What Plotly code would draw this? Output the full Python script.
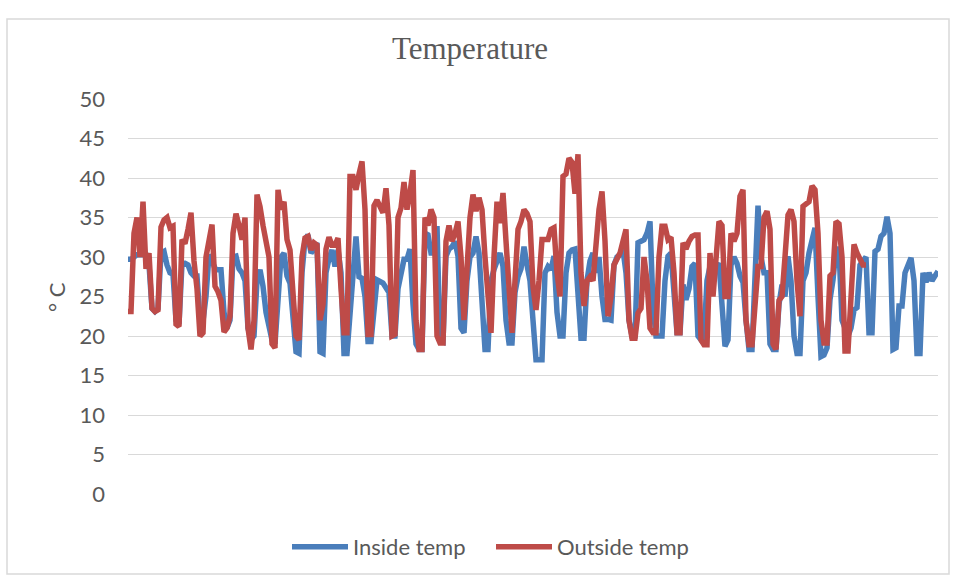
import plotly.graph_objects as go

# Samples (equally spaced readings); values in deg C
inside_temp = [
    29.7, 29.7, 30.0, 30.3, 30.3, 30.3, 30.3, 29.0, 23.5, 23.1,
    23.5, 30.5, 30.7, 29.0, 28.0, 27.8, 22.0, 21.5, 29.2, 29.2,
    29.0, 28.0, 27.6, 27.6, 22.0, 21.9, 25.0, 30.3, 29.3, 28.6,
    28.4, 28.4, 23.0, 21.0, 22.0, 30.0, 30.1, 28.5, 28.0, 27.0,
    21.0, 19.5, 20.0, 27.0, 28.4, 26.3, 23.0, 21.0, 19.5, 19.0,
    25.0, 30.0, 30.5, 27.6, 26.7, 22.0, 18.0, 17.8, 28.0, 32.2,
    32.8, 30.5, 31.0, 31.8, 18.0, 17.8, 28.0, 29.8, 30.9, 28.8,
    30.9, 28.0, 17.8, 17.8, 23.0, 28.0, 32.6, 27.5, 27.3, 25.0,
    19.3, 19.3, 24.0, 27.1, 26.9, 26.7, 26.1, 25.5, 20.0, 20.0,
    26.0, 28.0, 29.7, 29.7, 31.0, 24.0, 19.0, 18.3, 18.3, 33.0,
    32.8, 30.5, 30.5, 33.9, 19.5, 19.3, 30.1, 31.0, 31.3, 32.0,
    30.1, 21.0, 20.4, 27.0, 30.0, 30.5, 32.6, 30.5, 25.0, 18.3,
    18.3, 27.0, 28.4, 29.5, 30.5, 28.8, 22.0, 19.1, 19.1, 25.5,
    27.5, 28.5, 31.3, 29.0, 27.0, 22.0, 17.0, 17.0, 17.0, 28.0,
    28.8, 28.4, 30.1, 23.0, 20.0, 20.0, 28.0, 30.5, 30.9, 31.0,
    25.0, 19.7, 19.7, 27.0, 29.5, 30.5, 28.0, 30.0, 25.0, 22.1,
    22.1, 22.0, 29.0, 30.0, 30.3, 30.9, 28.0, 22.0, 20.0, 20.0,
    31.8, 32.0, 32.2, 33.0, 34.5, 23.8, 20.0, 20.0, 20.0, 27.0,
    30.1, 30.5, 25.0, 20.4, 20.4, 26.5, 24.6, 26.0, 28.8, 29.2,
    20.0, 19.5, 19.8, 27.0, 28.8, 28.8, 28.8, 29.2, 23.0, 18.7,
    19.5, 29.0, 30.0, 29.2, 27.6, 26.8, 22.0, 18.3, 18.3, 28.8,
    36.5, 30.0, 28.0, 28.0, 19.0, 18.3, 18.3, 24.0, 26.5, 25.0,
    30.1, 27.0, 20.0, 17.8, 17.8, 27.0, 28.0, 30.5, 31.8, 33.7,
    25.0, 17.4, 17.6, 18.5, 24.6, 27.1, 31.0, 31.0, 22.0, 21.0,
    20.0, 21.0, 23.3, 23.6, 29.0, 29.5, 30.0, 20.4, 20.4, 30.7,
    31.0, 32.6, 33.0, 35.1, 33.0, 18.3, 18.5, 23.8, 23.8, 28.0,
    28.8, 29.9, 27.0, 17.8, 17.8, 28.0, 26.8, 28.0, 27.0, 27.5,
    28.2,
]

outside_temp = [
    23.1, 23.1, 33.0, 35.0, 30.0, 37.0, 28.5, 30.5, 23.5, 23.1,
    23.3, 33.8, 34.7, 35.0, 33.7, 33.9, 21.5, 21.2, 32.2, 31.7,
    33.5, 35.6, 29.5, 26.0, 20.0, 20.4, 30.0, 32.5, 34.1, 26.3,
    25.6, 24.5, 20.5, 21.0, 22.5, 33.0, 35.5, 34.0, 32.2, 35.0,
    21.0, 18.3, 22.0, 37.9, 36.4, 34.0, 32.2, 30.0, 19.0, 18.5,
    38.5, 36.0, 37.0, 32.2, 30.9, 24.0, 20.0, 19.5, 30.0, 32.4,
    32.6, 30.9, 31.8, 31.5, 22.0, 24.0, 31.0, 32.5, 31.5, 31.5,
    32.4, 26.0, 20.4, 20.4, 40.2, 40.2, 38.5, 40.5, 42.1, 36.0,
    20.2, 20.2, 36.5, 37.2, 36.5, 35.6, 38.7, 34.0, 20.0, 20.2,
    35.0, 36.2, 39.5, 36.0, 38.1, 41.0, 22.0, 18.3, 18.3, 35.0,
    34.0, 36.0, 35.0, 20.0, 19.1, 19.1, 32.0, 34.0, 32.0, 33.0,
    34.5, 30.0, 22.0, 30.0, 35.0, 37.9, 35.8, 37.5, 36.0, 30.0,
    24.0, 20.4, 30.0, 37.0, 34.3, 38.1, 32.0, 25.0, 20.4, 27.0,
    33.5, 34.5, 36.0, 35.5, 34.5, 26.3, 23.3, 27.0, 32.2, 32.2,
    32.2, 33.5, 33.7, 28.0, 25.0, 40.2, 40.5, 42.5, 42.0, 38.0,
    43.0, 28.0, 23.8, 27.0, 27.5, 27.0, 32.0, 36.0, 38.3, 32.0,
    22.5, 25.0, 29.0, 29.7, 30.5, 32.0, 33.5, 22.0, 19.7, 19.7,
    22.9, 23.5, 30.0, 27.0, 21.0, 20.4, 20.4, 30.0, 33.9, 33.9,
    32.2, 32.5, 28.0, 20.4, 20.4, 31.8, 31.0, 32.0, 32.6, 32.8,
    32.8, 19.5, 18.9, 18.9, 30.5, 25.0, 30.0, 34.5, 34.0, 25.0,
    25.0, 33.0, 32.0, 33.0, 37.7, 38.5, 22.0, 18.9, 18.9, 24.0,
    28.8, 28.8, 35.0, 35.8, 33.5, 19.0, 18.3, 24.5, 25.0, 30.0,
    35.3, 36.0, 34.5, 27.0, 22.5, 36.4, 36.8, 37.0, 39.0, 38.5,
    33.0, 22.0, 19.1, 19.1, 27.6, 28.0, 34.5, 34.2, 30.0, 18.1,
    18.1, 25.0, 31.6, 30.5, 29.7, 29.0, 29.0,
]

y_ticks = [0, 5, 10, 15, 20, 25, 30, 35, 40, 45, 50]

n = len(inside_temp)
x_idx = list(range(n))
outside_full = outside_temp + [None] * (n - len(outside_temp))

W, H = 956, 581
ML, MR, MT, MB = 128, 18, 99, 87
pw, ph = W - ML - MR, H - MT - MB

fig = go.Figure()
fig.add_trace(go.Scatter(x=x_idx, y=inside_temp, mode="lines", name="Inside temp",
                         line=dict(color="#4a7ebb", width=5.5)))
fig.add_trace(go.Scatter(x=x_idx, y=outside_full, mode="lines", name="Outside temp",
                         line=dict(color="#be4b48", width=5.5)))

gray = "#595959"
sans = "Lato, Carlito, sans-serif"
fig.update_layout(
    width=W, height=H,
    margin=dict(l=ML, r=MR, t=MT, b=MB),
    paper_bgcolor="white", plot_bgcolor="white",
    title=dict(text="Temperature", x=470 / W, xanchor="center", y=1 - 48 / H,
               yanchor="middle", yref="container",
               font=dict(family="Liberation Serif, Times New Roman, serif", size=31, color=gray)),
    showlegend=True,
    legend=dict(orientation="h", x=(287 - ML) / pw, xanchor="left", y=-53 / ph,
                yanchor="middle",
                font=dict(family=sans, size=22, color=gray),
                itemwidth=56, entrywidth=133, entrywidthmode="pixels",
                traceorder="normal", bgcolor="rgba(0,0,0,0)"),
    xaxis=dict(range=[0, n - 1], showticklabels=False, showgrid=False, zeroline=False,
               ticks="", showline=False),
    yaxis=dict(range=[0, 50], tickvals=y_ticks, showgrid=True, gridcolor="#d9d9d9",
               gridwidth=1, zeroline=False, showline=False, ticks="",
               ticklabelstandoff=22,
               tickfont=dict(family=sans, size=22, color=gray)),
    annotations=[dict(text="° C", xref="paper", yref="paper", x=(56 - ML) / pw,
                      y=(494 - 297) / ph,
                      textangle=-90, showarrow=False, xanchor="center", yanchor="middle",
                      font=dict(family=sans, size=22, color=gray))],
    shapes=[dict(type="rect", xref="paper", yref="paper",
                 x0=(7 - ML) / pw, x1=(W - 7 - ML) / pw,
                 y0=-(MB - 7) / ph, y1=(H - MT - 7) / ph,
                 line=dict(color="#d9d9d9", width=1.5), layer="below")],
)

fig.write_html("out.html", config={"displayModeBar": False},
               post_script="document.body.style.margin='0';document.body.style.padding='0';")
